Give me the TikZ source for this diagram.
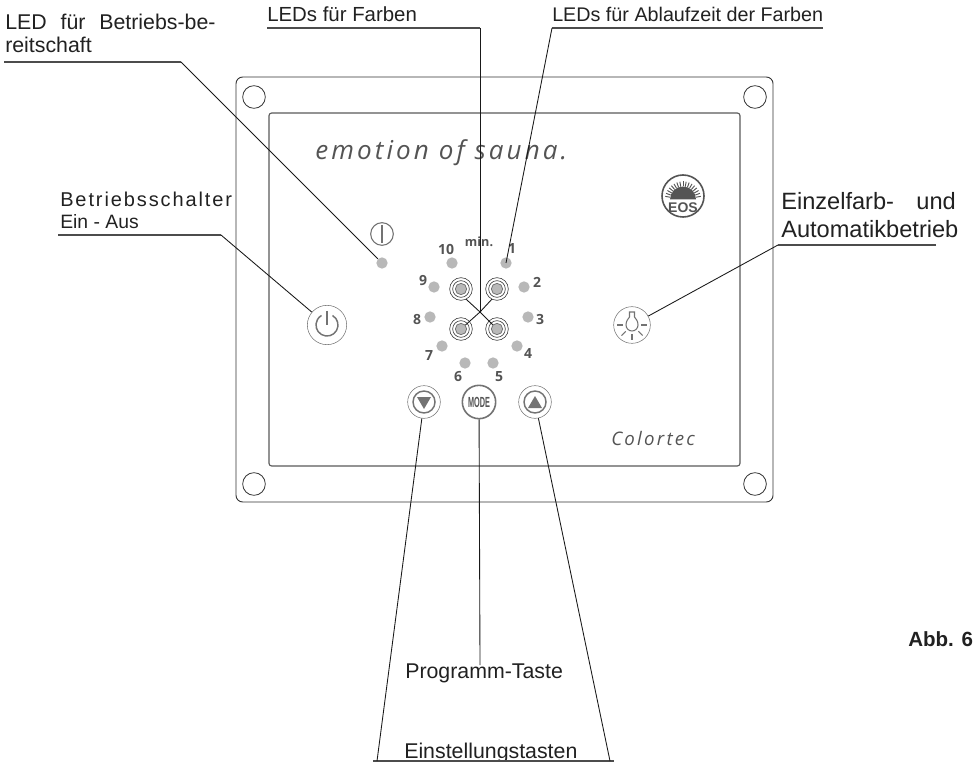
\documentclass[tikz,border=0pt]{standalone}
\usepackage{fontspec}
\setmainfont{Liberation Sans}
\newfontfamily\numfont{Open Sans}
\newfontfamily\handfont{Open Sans}[LetterSpace=12]
\newfontfamily\widefont{Liberation Sans}[LetterSpace=9.5]
\usetikzlibrary{calc}
\definecolor{panelline}{gray}{0.2}
\definecolor{innerline}{gray}{0.35}
\definecolor{ledgray}{gray}{0.72}
\definecolor{symgray}{gray}{0.45}
\definecolor{lbl}{gray}{0.13}
\definecolor{numcol}{gray}{0.33}
\tikzset{
  x=0.75pt,y=-0.75pt,
  led/.style={circle,fill=ledgray,inner sep=0pt,minimum size=8.5pt},
  txt/.style={anchor=base west,inner sep=0pt,text=lbl,font=\fontsize{16}{18}\selectfont},
  num/.style={inner sep=0pt,text=numcol,font=\numfont\bfseries\fontsize{10.5}{12}\selectfont},
  hole/.style={circle,draw=panelline,line width=0.6pt,inner sep=0pt,minimum size=17pt},
  ringout/.style={circle,draw=panelline,line width=0.45pt,inner sep=0pt,minimum size=17pt},
  ringmid/.style={circle,draw=panelline,line width=0.45pt,inner sep=0pt,minimum size=12.5pt},
  ringcore/.style={circle,draw=symgray,fill=ledgray,line width=0.6pt,inner sep=0pt,minimum size=8.5pt},
  btnout/.style={circle,draw=symgray,line width=0.4pt,inner sep=0pt,minimum size=24.5pt},
  btnin/.style={circle,draw=symgray,line width=1.1pt,inner sep=0pt,minimum size=16.5pt},
  conn/.style={draw=black!90,line width=0.65pt},
  under/.style={draw=black!70,line width=0.9pt},
}
\begin{document}
\begin{tikzpicture}
\useasboundingbox (0,0) rectangle (973,762);
% panel
\draw[panelline,line width=0.7pt,rounded corners=5pt] (236,77) rectangle (773,502);
\draw[innerline,line width=0.85pt,rounded corners=2pt] (269,113) rectangle (740,466);
\node[hole] (h1) at (254,97) {};
\node[hole] (h2) at (755,97) {};
\node[hole] (h3) at (254,484) {};
\node[hole] (h4) at (755,484) {};
% brand lettering
\node[anchor=base west,inner sep=0pt,text=numcol,font=\handfont\itshape\fontsize{19.5}{22}\selectfont] (brand) at (315,160) {emotion of sauna.};
\node[anchor=base west,inner sep=0pt,text=numcol,font=\handfont\itshape\fontsize{14}{18}\selectfont] (colortec) at (611,445) {Colortec};
% EOS logo
\fill[numcol] (670,199.5) arc[start angle=180,end angle=360,radius=13] -- cycle;
\foreach \a in {-170,-160,...,-10}{\draw[numcol,line width=0.7pt] ($(683,199.5)+(\a:13)$) -- ($(683,199.5)+(\a:18)$);}
\node[circle,draw=numcol,line width=1.2pt,inner sep=0pt,minimum size=31.5pt] (eos) at (683,196) {};
\node[inner sep=0pt,text=numcol,font=\bfseries\fontsize{10.5}{12}\selectfont] (eostext) at (683,207.5) {EOS};
% power LED and symbol
\node[circle,draw=symgray,line width=0.8pt,inner sep=0pt,minimum size=17pt] (pwrsym) at (382,234) {};
\draw[symgray,line width=0.8pt] (382,225) -- (382,243);
\node[led] (ledp) at (382,263) {};
% time LEDs
\node[led] (l1) at (506,263) {};
\node[led] (l2) at (524,287) {};
\node[led] (l3) at (528,317) {};
\node[led] (l4) at (517,346) {};
\node[led] (l5) at (493,363) {};
\node[led] (l6) at (465,363) {};
\node[led] (l7) at (442,346) {};
\node[led] (l8) at (430,317) {};
\node[led] (l9) at (434,287) {};
\node[led] (l10) at (452,263) {};
\node[num] (n1) at (512,249) {1};
\node[num] (n2) at (537,282) {2};
\node[num] (n3) at (540,320) {3};
\node[num] (n4) at (528,354) {4};
\node[num] (n5) at (499,377) {5};
\node[num] (n6) at (458,377) {6};
\node[num] (n7) at (429,356) {7};
\node[num] (n8) at (417,320) {8};
\node[num] (n9) at (423,281) {9};
\node[num] (n10) at (446,249) {10};
\node[num,font=\numfont\bfseries\fontsize{9.5}{10}\selectfont] (nmin) at (479,242) {min.};
% colour LEDs
\foreach \n/\p in {a/{461,289},b/{497,289},c/{461,329},d/{497,329}}{
  \node[ringout] (r\n) at (\p) {};
  \node[ringmid] at (\p) {};
  \node[ringcore] (k\n) at (\p) {};
}
% buttons
\node[btnout,minimum size=29.5pt] (bpwr) at (327,325) {};
\draw[symgray,line width=1.1pt] (332.5,315.5) arc[start angle=-60,end angle=240,radius=11];
\draw[symgray,line width=1.1pt] (327,311) -- (327,325);
\node[btnout,minimum size=27.5pt] (bbulb) at (632,325) {};
\draw[symgray,line width=0.8pt] (629.5,312) -- (634.5,312) -- (634.5,317)
  .. controls (636,319) and (638,321) .. (638,325) arc[start angle=0,end angle=180,radius=6]
  .. controls (626,321) and (628,319) .. (629.5,317) -- cycle;
\foreach \a in {0,45,90,135,180}{\draw[symgray,line width=0.8pt] ($(632,325)+(\a:9)$) -- ($(632,325)+(\a:15)$);}
\node[btnout] (bdown) at (424,402) {};
\node[btnin] at (424,402) {};
\fill[symgray] (417,397) -- (431,397) -- (424,409) -- cycle;
\node[btnout] (bup) at (535,402) {};
\node[btnin] at (535,402) {};
\fill[symgray] (528,408) -- (542,408) -- (535,396) -- cycle;
\node[circle,draw=symgray,line width=1.2pt,inner sep=0pt,minimum size=25pt] (bmode) at (479,402) {};
\node[inner sep=0pt,text=numcol,font=\bfseries\fontsize{11}{12}\selectfont] at (479,402) {\scalebox{0.5}[1]{MODE}};
% labels
\node[txt] (tled) at (5,30) {LED\hspace{0.65em}für\hspace{0.65em}Betriebs-be-};
\node[txt] (tled2) at (5,53) {reitschaft};
\node[txt,font=\fontsize{15.3}{18}\selectfont] (tfar) at (267,22) {LEDs für Farben};
\node[txt,font=\fontsize{14.8}{18}\selectfont] (tabl) at (552,22) {LEDs für Ablaufzeit der Farben};
\node[txt,font=\widefont\fontsize{15}{18}\selectfont] (tbs) at (60,207) {Betriebsschalter};
\node[txt,font=\fontsize{14.5}{18}\selectfont] (tein) at (60,229) {Ein - Aus};
\node[txt,font=\fontsize{17.7}{20}\selectfont] (tez) at (781,210) {Einzelfarb-\hspace{0.95em}und};
\node[txt,font=\fontsize{17.7}{20}\selectfont] (tau) at (781,238) {Automatikbetrieb};
\node[txt] (tprog) at (405,678) {Programm-Taste};
\node[txt] (tset) at (404,758) {Einstellungstasten};
\node[txt,font=\bfseries\fontsize{15.4}{18}\selectfont] (tabb) at (908,646) {Abb. 6};
% connector points
\coordinate (a1) at (4,62);   \coordinate (a2) at (181,62);
\coordinate (b1) at (58,235); \coordinate (b2) at (221,235);
\coordinate (c1) at (267,28); \coordinate (c2) at (480,28); \coordinate (c3) at (480,312);
\coordinate (d1) at (823,28); \coordinate (d2) at (552,28);
\coordinate (e1) at (936,245);\coordinate (e2) at (778,245);
\coordinate (f1) at (373,761);\coordinate (f2) at (614,761);
\coordinate (f3) at (377,761);\coordinate (f4) at (610,761);
\coordinate (g1) at (480,665);
% connectors
\draw[under] (a1) -- (a2);
\draw[conn] (a2) -- (ledp);
\draw[under] (b1) -- (b2);
\draw[conn] (b2) -- (bpwr);
\draw[under] (c1) -- (c2);
\draw[conn] (c2) -- (c3);
\draw[conn] (c3) -- (ra.-63);
\draw[conn] (c3) -- (rb.-117);
\draw[conn] (c3) -- (kc);
\draw[conn] (c3) -- (kd);
\draw[under] (d1) -- (d2);
\draw[conn] (d2) -- (l1.center);
\draw[under] (e1) -- (e2);
\draw[conn] (e2) -- (bbulb);
\draw[under] (f1) -- (f2);
\draw[conn] (f3) -- (bdown);
\draw[conn] (f4) -- (bup);
\draw[conn] (g1) -- (bmode);
\end{tikzpicture}
\end{document}
